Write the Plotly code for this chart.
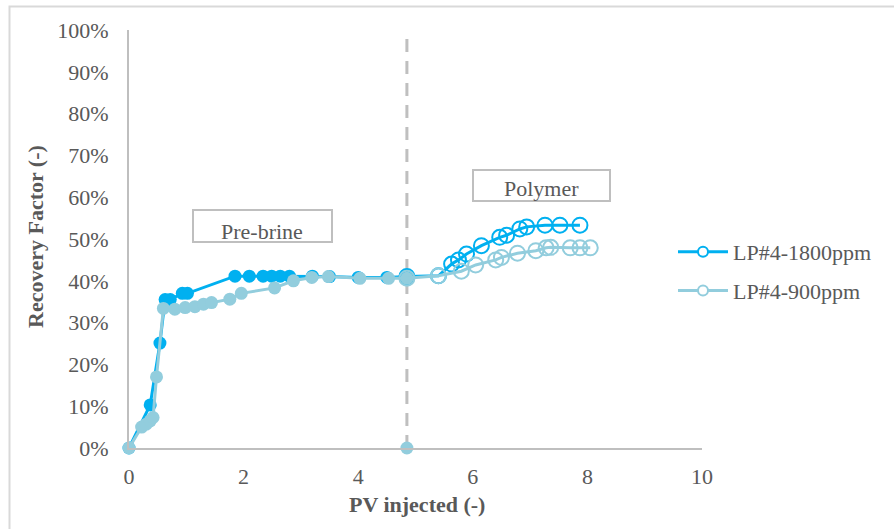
import plotly.graph_objects as go

# Recovery factor vs. pore volumes injected, LP#4 core, two polymer concentrations.
# Each run has a pre-brine flood (filled markers) followed by polymer injection (open markers).
pv_1800_brine = [0, 0.37, 0.54, 0.63, 0.72, 0.93, 1.02, 1.85, 2.10, 2.34, 2.49, 2.64, 2.80,
                 3.20, 3.50, 4.00, 4.50, 4.85]
rf_1800_brine = [0, 0.103, 0.251, 0.355, 0.355, 0.370, 0.370, 0.411, 0.411, 0.411, 0.411, 0.411,
                 0.411, 0.411, 0.410, 0.408, 0.408, 0.410]
pv_1800_poly = [4.85, 5.40, 5.63, 5.75, 5.89, 6.15, 6.47, 6.59, 6.82, 6.94, 7.26, 7.52, 7.87]
rf_1800_poly = [0.410, 0.412, 0.440, 0.450, 0.464, 0.484, 0.504, 0.509, 0.524, 0.529, 0.533,
                0.533, 0.533]

pv_900_brine = [0, 0.22, 0.30, 0.37, 0.42, 0.48, 0.60, 0.80, 0.98, 1.15, 1.30, 1.44, 1.76, 1.96,
                2.54, 2.87, 3.19, 3.48, 4.03, 4.53, 4.85]
rf_900_brine = [0, 0.050, 0.057, 0.065, 0.073, 0.170, 0.334, 0.332, 0.336, 0.338, 0.344, 0.348,
                0.356, 0.370, 0.383, 0.400, 0.408, 0.410, 0.406, 0.406, 0.406]
pv_900_poly = [4.85, 5.40, 5.80, 6.05, 6.40, 6.50, 6.78, 7.10, 7.28, 7.36, 7.70, 7.87, 8.05]
rf_900_poly = [0.406, 0.412, 0.423, 0.438, 0.450, 0.456, 0.466, 0.472, 0.479, 0.480, 0.479,
               0.479, 0.479]

# Start of polymer injection
switch_pv = [4.85, 4.85]
switch_rf = [0.0, 1.0]

series_names = ["LP#4-1800ppm", "LP#4-900ppm"]
phase_labels = ["Pre-brine", "Polymer"]

C1800 = "#00B0F0"
C900 = "#92CDDD"
GRAY = "#595959"
AXIS = "#BFBFBF"
SERIF = "Liberation Serif"
FS = 22

W, H = 894, 529
L, R, T, B = 129, 192, 30, 81
PW, PH = W - L - R, H - T - B


def px(x):
    return (x - L) / PW


def py(y):
    return (H - B - y) / PH


fig = go.Figure()

# vertical dashed divider between the two phases
fig.add_trace(go.Scatter(x=switch_pv, y=switch_rf, mode="lines",
                         line=dict(color=AXIS, width=3, dash="13px,9px"),
                         showlegend=False, hoverinfo="skip", cliponaxis=False))
fig.add_trace(go.Scatter(x=switch_pv[:1], y=switch_rf[:1], mode="markers",
                         marker=dict(color=C900, size=13), showlegend=False,
                         cliponaxis=False))


def add_run(pv_b, rf_b, pv_p, rf_p, color, name):
    fig.add_trace(go.Scatter(x=pv_b, y=rf_b, mode="lines+markers",
                             line=dict(color=color, width=3),
                             marker=dict(color=color, size=13, line=dict(width=0)),
                             showlegend=False, cliponaxis=False, name=name))
    fig.add_trace(go.Scatter(x=pv_p, y=rf_p, mode="lines+markers",
                             line=dict(color=color, width=3),
                             marker=dict(color="rgba(0,0,0,0)", size=15,
                                         line=dict(color=color, width=2)),
                             showlegend=False, cliponaxis=False, name=name))
    # legend entry
    fig.add_trace(go.Scatter(x=[None], y=[None], mode="lines+markers", name=name,
                             legendgroup=name,
                             line=dict(color=color, width=3),
                             marker=dict(color="white", size=10,
                                         line=dict(color=color, width=2))))


add_run(pv_1800_brine, rf_1800_brine, pv_1800_poly, rf_1800_poly, C1800, series_names[0])
add_run(pv_900_brine, rf_900_brine, pv_900_poly, rf_900_poly, C900, series_names[1])

shapes = [
    # chart area frame
    dict(type="rect", xref="paper", yref="paper", x0=px(9.5), x1=px(920), y0=py(560), y1=py(6.5),
         line=dict(color="#D9D9D9", width=2), fillcolor="rgba(0,0,0,0)", layer="below"),
    # phase label boxes
    dict(type="rect", xref="paper", yref="paper", x0=px(193), x1=px(332), y0=py(242), y1=py(210),
         line=dict(color=AXIS, width=2), fillcolor="white"),
    dict(type="rect", xref="paper", yref="paper", x0=px(473), x1=px(610), y0=py(201), y1=py(170),
         line=dict(color=AXIS, width=2), fillcolor="white"),
]

annotations = [
    dict(text=phase_labels[0], xref="paper", yref="paper", x=px(262), y=py(231),
         xanchor="center", yanchor="middle", showarrow=False,
         font=dict(family=SERIF, size=FS, color=GRAY)),
    dict(text=phase_labels[1], xref="paper", yref="paper", x=px(541), y=py(188),
         xanchor="center", yanchor="middle", showarrow=False,
         font=dict(family=SERIF, size=FS, color=GRAY)),
    dict(text="<b>PV injected (-)</b>", xref="paper", yref="paper", x=px(417), y=py(505),
         xanchor="center", yanchor="middle", showarrow=False,
         font=dict(family=SERIF, size=FS, color=GRAY)),
    dict(text="<b>Recovery Factor (-)</b>", xref="paper", yref="paper", x=px(35), y=py(237),
         xanchor="center", yanchor="middle", showarrow=False, textangle=-90,
         font=dict(family=SERIF, size=FS, color=GRAY)),
]

fig.update_layout(
    width=W, height=H,
    margin=dict(l=L, r=R, t=T, b=B),
    paper_bgcolor="white", plot_bgcolor="white",
    font=dict(family=SERIF, size=FS, color=GRAY),
    shapes=shapes, annotations=annotations,
    legend=dict(x=px(673), y=py(231), xanchor="left", yanchor="top",
                bgcolor="rgba(0,0,0,0)", tracegroupgap=7, itemwidth=50,
                font=dict(family=SERIF, size=FS, color=GRAY)),
    xaxis=dict(range=[0, 10], dtick=2, showgrid=False, zeroline=False,
               showline=True, linecolor=AXIS, linewidth=2,
               ticks="outside", ticklen=8, tickcolor="rgba(0,0,0,0)",
               tickfont=dict(family=SERIF, size=FS, color=GRAY)),
    yaxis=dict(range=[0, 1], dtick=0.1, tickformat=".0%", showgrid=False, zeroline=False,
               showline=True, linecolor=AXIS, linewidth=2,
               ticks="outside", ticklen=14, tickcolor="rgba(0,0,0,0)",
               tickfont=dict(family=SERIF, size=FS, color=GRAY)),
)

fig.write_html("out.html")
